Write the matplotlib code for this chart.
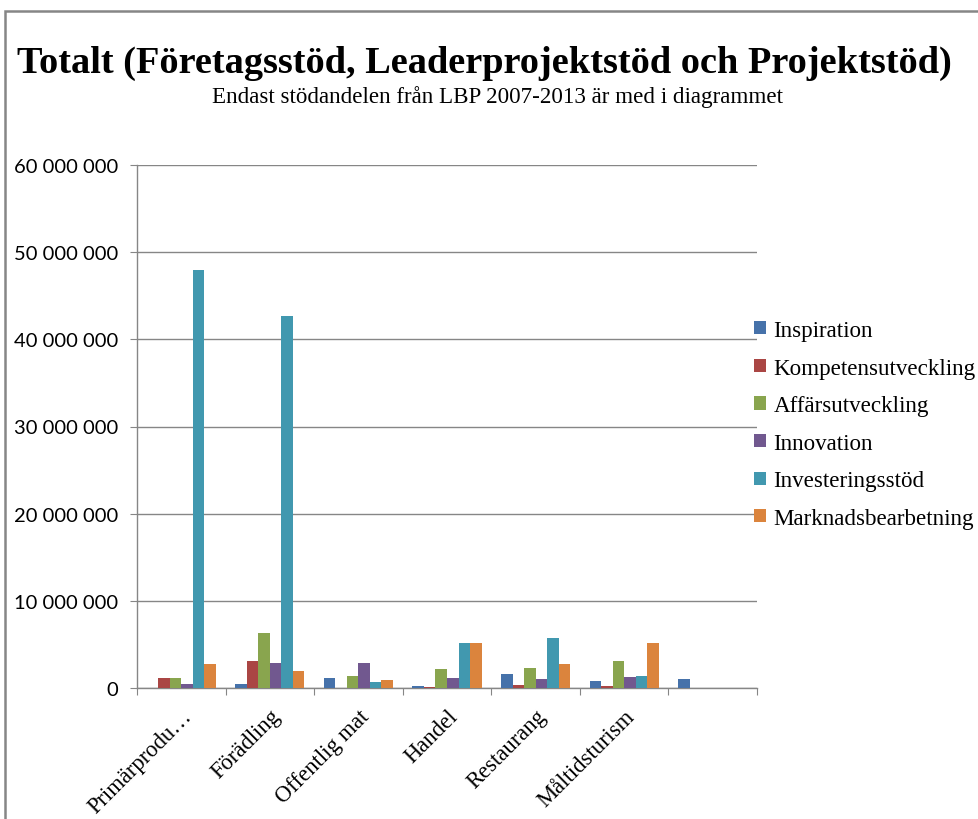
import matplotlib
matplotlib.use("Agg")
import matplotlib.pyplot as plt
import matplotlib.patches as mpatches
from matplotlib.transforms import ScaledTranslation
from matplotlib.ticker import FuncFormatter, FixedLocator
import numpy as np

categories = ["Primärprodu…", "Förädling", "Offentlig mat", "Handel",
              "Restaurang", "Måltidsturism", ""]
series_names = ["Inspiration", "Kompetensutveckling", "Affärsutveckling",
                "Innovation", "Investeringsstöd", "Marknadsbearbetning"]
inspiration = [0, 500000, 1150000, 270000, 1640000, 760000, 1030000]
kompetensutveckling = [1180000, 3050000, 0, 150000, 380000, 260000, 0]
affarsutveckling = [1180000, 6300000, 1400000, 2180000, 2330000, 3050000, 0]
innovation = [500000, 2900000, 2900000, 1180000, 1030000, 1260000, 0]
investeringsstod = [48000000, 42700000, 650000, 5200000, 5730000, 1410000, 0]
marknadsbearbetning = [2800000, 1900000, 870000, 5200000, 2790000, 5200000, 0]
series_values = [inspiration, kompetensutveckling, affarsutveckling,
                 innovation, investeringsstod, marknadsbearbetning]
colors = ["#4672AA", "#AA4644", "#89A54E", "#71588F", "#4198AF", "#DB843D"]
y_ticks = [0, 10000000, 20000000, 30000000, 40000000, 50000000, 60000000]

title = "Totalt (Företagsstöd, Leaderprojektstöd och Projektstöd)"
subtitle = "Endast stödandelen från LBP 2007-2013 är med i diagrammet"

W, H = 979, 820
fig = plt.figure(figsize=(W / 100, H / 100), dpi=100)
fig.patch.set_facecolor("white")

ax = fig.add_axes([137 / W, 1 - 689 / H, (757 - 137) / W, (689 - 166) / H])

grid_col = "#868686"
x = np.arange(len(categories))
w = 0.13
handles = []
for i, (name, vals, col) in enumerate(zip(series_names, series_values, colors)):
    b = ax.bar(x + (i - 2.5) * w, vals, width=w, color=col, linewidth=0,
               label=name, zorder=3)
    handles.append(b)

ax.set_xlim(-0.5, len(categories) - 0.5)
ax.set_ylim(0, 60000000)
ax.set_yticks(y_ticks)
ax.yaxis.set_major_formatter(FuncFormatter(lambda v, p: f"{int(v):,}".replace(",", " ")))
ax.grid(axis="y", color=grid_col, linewidth=1.0, zorder=0)
ax.set_axisbelow(True)

for s in ["top", "right"]:
    ax.spines[s].set_visible(False)
for s in ["left", "bottom"]:
    ax.spines[s].set_color(grid_col)
    ax.spines[s].set_linewidth(1.0)

ax.tick_params(axis="y", direction="out", length=5, color=grid_col, pad=8.5,
               labelsize=14.5)
for lab in ax.get_yticklabels():
    lab.set_fontfamily("Lato")

# x: major ticks at boundaries, labels at centers
ax.xaxis.set_major_locator(FixedLocator(np.arange(-0.5, len(categories), 1.0)))
ax.xaxis.set_major_formatter(FuncFormatter(lambda v, p: ""))
ax.set_xticks(x, minor=True)
ax.set_xticklabels(categories, minor=True, rotation=45, ha="right", va="top",
                   rotation_mode="anchor", fontfamily="Liberation Serif",
                   fontsize=16.3)
ax.tick_params(axis="x", which="major", direction="out", length=5,
               color=grid_col)
ax.tick_params(axis="x", which="minor", length=0, pad=12.5)
for lab in ax.get_xticklabels(minor=True):
    lab.set_transform(lab.get_transform() + ScaledTranslation(0 / 100, 0, fig.dpi_scale_trans))

leg = fig.legend(handles=handles, labels=series_names, loc="upper left",
                 bbox_to_anchor=(754 / W, 1 - 321 / H), frameon=False,
                 prop={"family": "Liberation Serif", "size": 16.6},
                 handlelength=0.5, handleheight=0.5, handletextpad=0.35,
                 labelspacing=0.72, borderaxespad=0, borderpad=0)

fig.text(484 / W, 1 - 73 / H, title, ha="center", va="baseline",
         fontfamily="Liberation Serif", fontweight="bold", fontsize=27.6)
fig.text(498 / W, 1 - 103 / H, subtitle, ha="center", va="baseline",
         fontfamily="Liberation Serif", fontsize=16.6)

border = mpatches.Rectangle((5.5 / W, -0.05), 1.1, 1 - 11.5 / H + 0.05,
                            transform=fig.transFigure, fill=False,
                            edgecolor=grid_col, linewidth=1.8, clip_on=False)
fig.add_artist(border)

fig.savefig("out.png", dpi=100, facecolor="white")
